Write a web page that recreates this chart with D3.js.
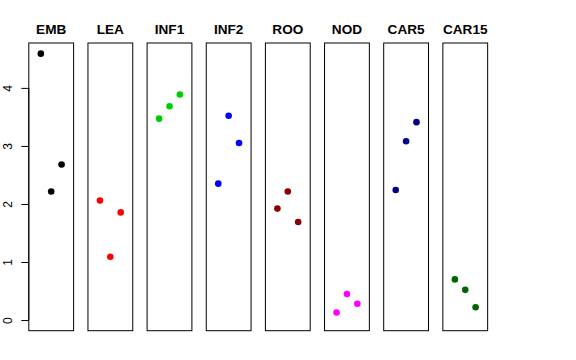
<!DOCTYPE html>
<html><head><meta charset="utf-8">
<script src="https://cdn.jsdelivr.net/npm/d3@7"></script>
<style>body{margin:0;background:#fff}svg{display:block}</style>
</head><body>
<script>
const panels = ["EMB","LEA","INF1","INF2","ROO","NOD","CAR5","CAR15"];
const colors = ["#000000","#FF0000","#00CD00","#0000FF","#8B0000","#FF00FF","#00008B","#006400"];
const values = [
  [4.59, 2.215, 2.68],
  [2.06, 1.09, 1.855],
  [3.47, 3.685, 3.886],
  [2.35, 3.52, 3.05],
  [1.92, 2.215, 1.69],
  [0.13, 0.45, 0.28],
  [2.24, 3.08, 3.41],
  [0.70, 0.52, 0.22]
];
const yTicks = [0,1,2,3,4];

const W = 576, H = 360;
const svg = d3.select("body").append("svg").attr("width", W).attr("height", H);

const yMax = d3.max(values.flat());
const pad = yMax * 0.04;
const y = d3.scaleLinear().domain([0 - pad, yMax + pad]).range([330.7, 43]);

const left0 = 28.8, step = 59.15, pw = 44.8;
const font = "'Liberation Sans', Arial, Helvetica, sans-serif";

panels.forEach((name, i) => {
  const x0 = left0 + i * step;
  const x = d3.scaleLinear().domain([-0.16, 4.16]).range([x0, x0 + pw]);
  const g = svg.append("g");
  g.append("rect")
    .attr("x", x0).attr("y", y.range()[1])
    .attr("width", pw).attr("height", y.range()[0] - y.range()[1])
    .attr("fill", "none").attr("stroke", "#000").attr("stroke-width", 1);
  g.selectAll("circle").data(values[i]).enter().append("circle")
    .attr("cx", (d, j) => x(j + 1))
    .attr("cy", d => y(d))
    .attr("r", 3.3)
    .attr("fill", colors[i]);
  g.append("text")
    .attr("x", x0 + pw / 2).attr("y", 33.8)
    .attr("text-anchor", "middle")
    .attr("font-family", font).attr("font-weight", "bold").attr("font-size", 13.6)
    .text(name);
});

// y axis
const axis = d3.axisLeft(y).tickValues(yTicks).tickSize(7.5).tickPadding(0).tickFormat(d3.format("d"));
const ag = svg.append("g").attr("transform", `translate(${left0},0)`).call(axis);
ag.select(".domain").attr("d", `M0,${y(0)}V${y(4)}`).attr("stroke", "#000");
ag.selectAll(".tick line").attr("stroke", "#000");
ag.selectAll(".tick text").remove();
ag.selectAll(".tick").append("text")
  .attr("transform", "translate(-21.3,0) rotate(-90)")
  .attr("text-anchor", "middle")
  .attr("dy", "0.35em")
  .attr("fill", "#000")
  .attr("font-family", font).attr("font-size", 12)
  .text(d => d);
</script>
</body></html>
